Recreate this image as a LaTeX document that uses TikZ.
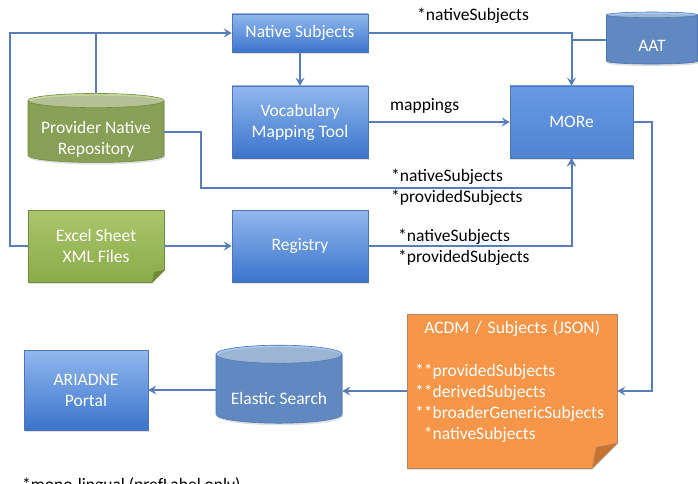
\documentclass[tikz,border=0pt]{standalone}
\usepackage{fontspec}
\setmainfont{Carlito}
\usepackage{xcolor}
\usetikzlibrary{arrows.meta,calc,shapes.geometric,shadows}
\definecolor{linkblue}{RGB}{88,125,185}
\definecolor{boxtop}{RGB}{146,184,238}
\definecolor{boxbottom}{RGB}{58,116,204}
\definecolor{boxedge}{RGB}{78,118,178}
\definecolor{moretop}{RGB}{104,154,226}
\definecolor{morebottom}{RGB}{78,132,212}
\definecolor{drumbody}{RGB}{86,140,216}
\definecolor{drumtop}{RGB}{168,200,242}
\definecolor{leaftop}{RGB}{170,198,108}
\definecolor{leafbottom}{RGB}{138,172,72}
\definecolor{leafedge}{RGB}{112,140,62}
\definecolor{leafcap}{RGB}{198,216,158}
\definecolor{leaffold}{RGB}{112,138,56}
\definecolor{jsonorange}{RGB}{247,150,72}
\definecolor{jsonedge}{RGB}{180,132,100}
\definecolor{jsonfold}{RGB}{196,116,46}
% pushes a text down inside its node by half of #1
\newcommand\sinktext[2]{\raisebox{0pt}[\dimexpr\height+#1\relax][\depth]{#2}}

\begin{document}
\begin{tikzpicture}[x=1pt, y=-1pt,
  font=\fontsize{17.5}{21}\selectfont,
  softshadow/.style={drop shadow={opacity=0.25, shadow xshift=1pt, shadow yshift=-2pt}},
  bluebox/.style={rectangle, draw=boxedge, line width=0.6pt, top color=boxtop, bottom color=boxbottom,
    text=white, align=center, minimum width=136, minimum height=38, softshadow},
  greenbox/.style={rectangle, draw=leafedge, line width=0.6pt, top color=leaftop, bottom color=leafbottom,
    text=white, align=center, minimum width=136, minimum height=72, softshadow},
  drum/.style={cylinder, shape border rotate=90, aspect=0.18, inner sep=2pt, draw=boxedge, line width=0.6pt,
    cylinder uses custom fill, cylinder body fill=drumbody, cylinder end fill=drumtop,
    text=white, align=center, softshadow},
  link/.style={draw=linkblue, line width=2pt, -{Stealth[length=8pt, width=9pt, inset=3pt]}},
  plainlink/.style={draw=linkblue, line width=2pt},
  tag/.style={anchor=north west, align=left, inner sep=0pt}]

\useasboundingbox (0,0) rectangle (698,484);

% 1. TOP ROW
\node[bluebox] (natsub) at (300,33) {Native Subjects};
\node[bluebox, minimum height=72] (vocab) at (300,122) {Vocabulary\\{}Mapping Tool};
\node[bluebox, minimum width=123, minimum height=72, top color=moretop, bottom color=morebottom] (more) at (571.5,122) {MORe};
\node[drum, minimum width=91, minimum height=52] (aat) at (652,40) {\sinktext{12pt}{AAT}};

% 2. PROVIDER SIDE (green)
\node[drum, aspect=0.125, draw=leafedge, cylinder body fill=leafbottom, cylinder end fill=leafcap,
  minimum width=136, minimum height=69] (prov) at (96,132.5)
  {\raisebox{0pt}[24pt][0pt]{\begin{tabular}{@{}c@{}}Provider Native\\Repository\end{tabular}}};
\node[greenbox] (excel) at (96,246) {Excel Sheet\\{}XML Files};
\node[bluebox, minimum height=72] (reg) at (300,246) {Registry};

% Folded corner on the Excel sheet
\fill[white] ($(excel.south east)+(0,-12)$) -- ($(excel.south east)+(4,-12)$) -- ($(excel.south east)+(4,4)$)
  -- ($(excel.south east)+(-12,4)$) -- ($(excel.south east)+(-12,0)$) -- cycle;
\filldraw[leaffold, draw=leafedge, line width=0.6pt] ($(excel.south east)+(0,-12)$) -- ($(excel.south east)+(-10,-10)$)
  -- ($(excel.south east)+(-12,0)$) -- cycle;

% 3. BOTTOM ROW
\node[rectangle, draw=jsonedge, line width=0.6pt, fill=jsonorange, minimum width=210, minimum height=154, softshadow]
  (acdm) at (512,391) {};
\node[tag, text=white, text width=194] (acdmtext) at (415,320)
  {\makebox[194pt]{ACDM / Subjects (JSON)}\\[22pt]
   {}**providedSubjects\\{}**derivedSubjects\\{}**broaderGenericSubjects\\{}\phantom{*}*nativeSubjects};

% Folded corner on the JSON note
\fill[white] ($(acdm.south east)+(0,-25)$) -- ($(acdm.south east)+(4,-25)$) -- ($(acdm.south east)+(4,4)$)
  -- ($(acdm.south east)+(-25,4)$) -- ($(acdm.south east)+(-25,0)$) -- cycle;
\filldraw[jsonfold, draw=jsonedge, line width=0.6pt] ($(acdm.south east)+(0,-25)$) -- ($(acdm.south east)+(-21,-21)$)
  -- ($(acdm.south east)+(-25,0)$) -- cycle;

\node[drum, minimum width=126, minimum height=78] (elastic) at (279,390) {\sinktext{16pt}{Elastic Search}};
\node[bluebox, minimum width=124, minimum height=80] (portal) at (86,390) {ARIADNE\\{}Portal};

% 4. CONNECTORS
\draw[link] (excel.west) -- ++(-18,0) |- (natsub.west);
\draw[plainlink] (prov.north) -- (prov.north |- natsub.west);
\draw[link] (natsub) -- (vocab);
\draw[link] (natsub.east) -| (more.north);
\draw[plainlink] (aat.west) -- (aat.west -| more.north);
\draw[link] (vocab) -- (more);
\draw[link] (prov.east) -- ++(37,0) -- ++(0,56) -| (more.south);
\draw[link] (excel) -- (reg);
\draw[link] (reg.east) -| (more.south);
\draw[link] (more.east) -- ++(19,0) |- (acdm.east);
\draw[link] (acdm.west) -- (acdm.west -| elastic.east);
\draw[link] (elastic.west) -- (elastic.west -| portal.east);

% Connector labels
\node[tag] (lbltop) at (417,8) {*nativeSubjects};
\node[tag] (lblmap) at (390,98) {mappings};
\node[tag] (lblprov) at (391,169) {*nativeSubjects\\{}*providedSubjects};
\node[tag] (lblreg) at (398,229) {*nativeSubjects\\{}*providedSubjects};

% Footnote, cut by the page edge
\node[anchor=base west, inner sep=0pt] (foot) at (22,490) {*mono-lingual (prefLabel only)};

\end{tikzpicture}
\end{document}
